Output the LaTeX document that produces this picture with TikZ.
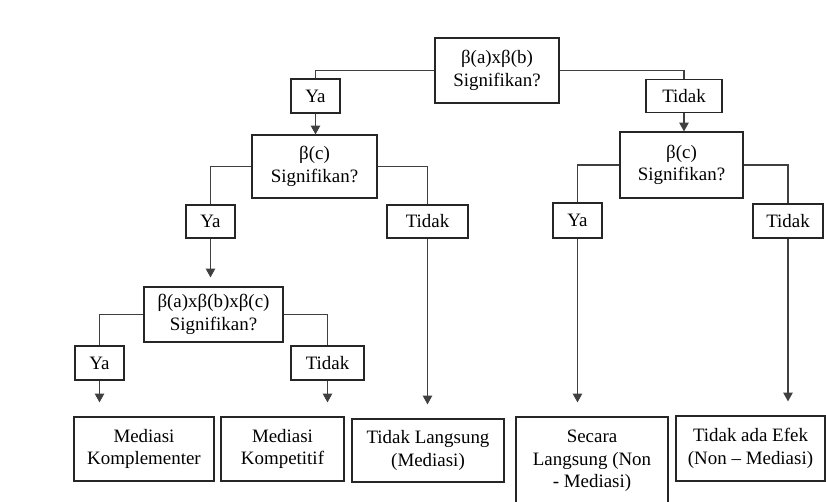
\documentclass[tikz,border=0pt]{standalone}
\usepackage{fontspec}
\setmainfont{Liberation Serif}
\usetikzlibrary{arrows.meta}

\tikzset{every picture/.style={line width=0.75pt}}
\tikzset{
	qbox/.style={draw=black!85, line width=0.9pt, align=center, inner sep=1pt, font=\fontsize{14.2}{17}\selectfont},
	ansbox/.style={qbox},
	resbox/.style={qbox},
	link/.style={draw=black!75, line width=0.8pt},
	arr/.style={link, -{Triangle[width=7pt,length=6.5pt]}}}

\begin{document}
\begin{tikzpicture}[x=0.75pt,y=0.75pt,yscale=-1,xscale=1]
	\useasboundingbox (0,0) rectangle (826,502);

	% Question Nodes
	\node [qbox, minimum width=93pt, minimum height=48.75pt] (q1) at (497,70.5) {β(a)xβ(b)\\Signifikan?};
	\node [qbox, minimum width=93.75pt, minimum height=47.25pt] (q2) at (314.5,166.5) {β(c)\\Signifikan?};
	\node [qbox, minimum width=92.25pt, minimum height=49.5pt] (q3) at (681.5,165) {β(c)\\Signifikan?};
	\node [qbox, minimum width=104.25pt, minimum height=41.25pt] (q4) at (213.5,314.5) {β(a)xβ(b)xβ(c)\\Signifikan?};

	% Answer Nodes
	\node [ansbox, minimum width=36.75pt, minimum height=25.5pt] (ya1) at (315.5,96) {Ya};
	\node [ansbox, minimum width=57pt, minimum height=24.75pt] (tidak1) at (684,96) {Tidak};
	\node [ansbox, minimum width=36.75pt, minimum height=24.75pt] (ya2) at (210.5,221.5) {Ya};
	\node [ansbox, minimum width=60.75pt, minimum height=24.75pt] (tidak2) at (427.5,221.5) {Tidak};
	\node [ansbox, minimum width=36.75pt, minimum height=26.25pt] (ya3) at (577.5,220.5) {Ya};
	\node [ansbox, minimum width=52.5pt, minimum height=25.5pt] (tidak3) at (788,221) {Tidak};
	\node [ansbox, minimum width=36.75pt, minimum height=25.5pt] (ya4) at (99.5,363) {Ya};
	\node [ansbox, minimum width=54.75pt, minimum height=25.5pt] (tidak4) at (327.5,363) {Tidak};

	% Result Nodes
	\node [resbox, minimum width=105pt, minimum height=48pt] (r1) at (144,449) {Mediasi\\Komplementer};
	\node [resbox, minimum width=92.25pt, minimum height=48pt] (r2) at (282.5,449) {Mediasi\\Kompetitif};
	\node [resbox, minimum width=114pt, minimum height=47.25pt] (r3) at (428,450.5) {Tidak Langsung\\(Mediasi)};
	\node [resbox, minimum width=114pt, minimum height=66pt] (r4) at (592,461) {Secara\\Langsung (Non\\- Mediasi)};
	\node [resbox, minimum width=111.75pt, minimum height=48.75pt] (r5) at (750.5,448.5) {Tidak ada Efek\\(Non – Mediasi)};

	% Branch Lines
	\draw [link] (q1.west) -| (ya1.north);
	\draw [link] (q1.east) -| (tidak1.north);
	\draw [link] (q2.west) -| (ya2.north);
	\draw [link] (q2.east) -| (tidak2.north);
	\draw [link] (q3.west) -| (ya3.north);
	\draw [link] (q3.east) -| (tidak3.north);
	\draw [link] (q4.west) -| (ya4.north);
	\draw [link] (q4.east) -| (tidak4.north);

	% Arrows
	\draw [arr] (ya1.south) -- (ya1.south |- q2.north);
	\draw [arr] (tidak1.south) -- (tidak1.south |- q3.north);
	\draw [arr, shorten >=6.75pt] (ya2.south) -- (ya2.south |- q4.north);
	\draw [arr, shorten >=10.5pt] (tidak2.south) -- (tidak2.south |- r3.north);
	\draw [arr, shorten >=10.5pt] (ya3.south) -- (ya3.south |- r4.north);
	\draw [arr, shorten >=10.5pt] (tidak3.south) -- (tidak3.south |- r5.north);
	\draw [arr, shorten >=10.5pt] (ya4.south) -- (ya4.south |- r1.north);
	\draw [arr, shorten >=10.5pt] (tidak4.south) -- (tidak4.south |- r2.north);

\end{tikzpicture}
\end{document}
